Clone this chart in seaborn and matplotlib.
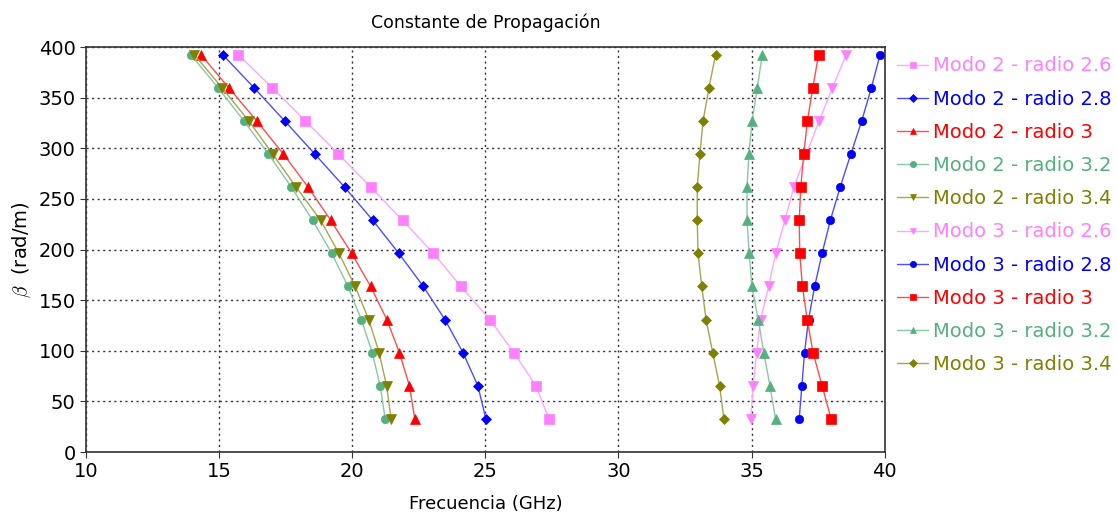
import numpy as np
import pandas as pd
import matplotlib
matplotlib.use("Agg")
import matplotlib.pyplot as plt
import matplotlib.colors as mcolors
import seaborn as sns

# beta values (rad/m), same for every curve
beta = [32.7, 65.4, 98.2, 130.9, 163.6, 196.3, 229.0, 261.8, 294.5, 327.2, 359.9, 392.7]

# frequency (GHz) for each curve, ordered by beta ascending
m2_r26 = [27.39, 26.9, 26.07, 25.17, 24.08, 23.05, 21.89, 20.69, 19.48, 18.24, 17.0, 15.71]
m2_r28 = [25.02, 24.72, 24.16, 23.48, 22.67, 21.75, 20.77, 19.71, 18.59, 17.46, 16.31, 15.13]
m2_r30 = [22.35, 22.15, 21.77, 21.30, 20.69, 19.98, 19.19, 18.34, 17.41, 16.41, 15.36, 14.31]
m2_r32 = [21.24, 21.05, 20.75, 20.34, 19.84, 19.23, 18.51, 17.71, 16.85, 15.93, 14.96, 13.93]
m2_r34 = [21.46, 21.29, 21.01, 20.62, 20.11, 19.50, 18.81, 17.89, 17.01, 16.11, 15.11, 14.06]
m3_r26 = [34.97, 35.06, 35.19, 35.34, 35.64, 35.91, 36.25, 36.59, 37.06, 37.54, 38.04, 38.56]
m3_r28 = [36.79, 36.89, 36.99, 37.14, 37.37, 37.65, 37.96, 38.33, 38.73, 39.14, 39.50, 39.83]
m3_r30 = [37.99, 37.65, 37.31, 37.09, 36.91, 36.81, 36.79, 36.85, 36.96, 37.10, 37.30, 37.52]
m3_r32 = [35.90, 35.69, 35.46, 35.25, 35.01, 34.91, 34.83, 34.83, 34.90, 35.02, 35.22, 35.40]
m3_r34 = [33.96, 33.80, 33.54, 33.29, 33.13, 32.99, 32.96, 32.96, 33.06, 33.18, 33.40, 33.65]

labels = ["Modo 2 - radio 2.6", "Modo 2 - radio 2.8", "Modo 2 - radio 3",
          "Modo 2 - radio 3.2", "Modo 2 - radio 3.4", "Modo 3 - radio 2.6",
          "Modo 3 - radio 2.8", "Modo 3 - radio 3", "Modo 3 - radio 3.2",
          "Modo 3 - radio 3.4"]
series = [m2_r26, m2_r28, m2_r30, m2_r32, m2_r34, m3_r26, m3_r28, m3_r30, m3_r32, m3_r34]

pink, blue, red, green, olive = "#ff80ff", "#0000ff", "#ff0000", "#55b07f", "#808000"
colors = [pink, blue, red, green, olive, pink, blue, red, green, olive]
markers = ["s", "D", "^", "o", "v", "v", "o", "s", "^", "D"]
msizes = [6.5, 5, 7.5, 6, 7.5, 7.5, 6, 6.5, 7.5, 5]

sns.set_style("white")
plt.rcParams["font.family"] = ["DejaVu Sans"]
plt.rcParams["mathtext.fontset"] = "cm"

fig = plt.figure(figsize=(11.17, 5.18), dpi=100)
ax = fig.add_axes([0.077, 0.1274, 0.715, 0.7816])

for lab, xs, c, m, ms in zip(labels, series, colors, markers, msizes):
    df = pd.DataFrame({"f": xs, "b": beta})
    light = np.array(mcolors.to_rgb(c)) * 0.7 + 0.3
    sns.lineplot(data=df, x="f", y="b", ax=ax, sort=False, estimator=None,
                 color=light, lw=1.0, marker=m, markersize=ms,
                 markerfacecolor=c, markeredgecolor=c, markeredgewidth=0.5,
                 label=lab)

ax.set_xlim(10, 40)
ax.set_ylim(0, 400)
ax.set_xticks(range(10, 41, 5))
ax.set_yticks(range(0, 401, 50))
ax.grid(True, linestyle=(0, (1.5, 2.5)), color="#333333", lw=1)
for s in ax.spines.values():
    s.set_color("#333333")
    s.set_linewidth(1.2)
ax.tick_params(labelsize=14, length=4, direction="out", color="#333333",
               labelcolor="black", left=True, bottom=True)
ax.set_xlabel("Frecuencia (GHz)", fontsize=13, labelpad=10, color="black")
ax.set_ylabel(r"$\beta$  (rad/m)", fontsize=14, labelpad=4, color="black")
ax.set_title("Constante de Propagación", fontsize=12.5, pad=14, color="black")

leg = ax.legend(loc="upper left", bbox_to_anchor=(1.016, 0.977), frameon=False,
                fontsize=14, handlelength=1.55, labelspacing=0.73,
                handletextpad=0.3, borderaxespad=0, borderpad=0)
for txt, c in zip(leg.get_texts(), colors):
    txt.set_color(c)
for h in leg.legend_handles:
    h.set_markersize(4.5)

fig.savefig("out.png", dpi=100)
